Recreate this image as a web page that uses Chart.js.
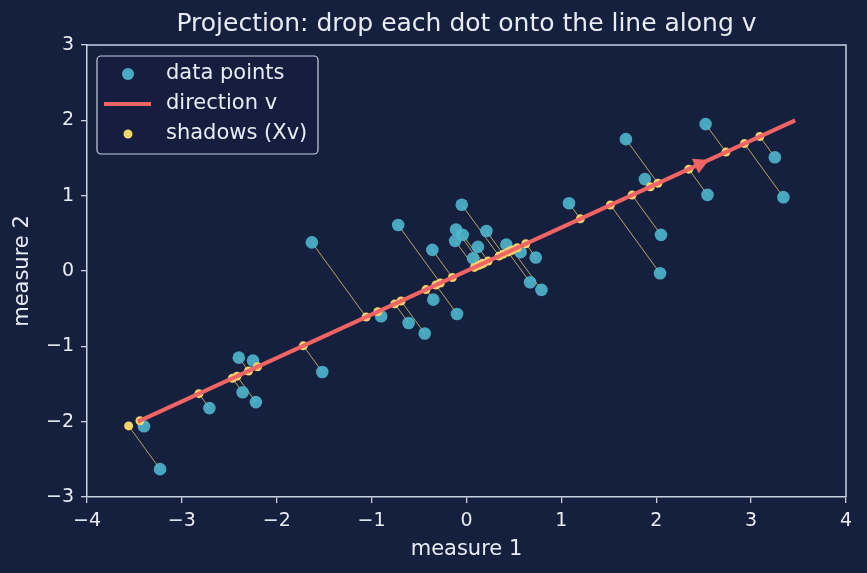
<!DOCTYPE html>
<html>
<head>
<meta charset="utf-8">
<script src="https://cdn.jsdelivr.net/npm/chart.js@4"></script>
<style>
  html, body { margin: 0; padding: 0; background: #151f3e; }
  #wrap { width: 867px; height: 573px; }
</style>
</head>
<body>
<div id="wrap"><canvas id="chart"></canvas></div>
<script>
// data points
const pointsX = [-3.40, -3.23, -2.71, -2.40, -2.36, -2.25, -2.22, -1.63, -1.52, -0.90,
                 -0.72, -0.61, -0.44, -0.36, -0.35, -0.12, -0.11, -0.10, -0.05, -0.04,
                  0.07,  0.12,  0.21,  0.42,  0.57,  0.67,  0.73,  0.79,  1.08,  1.68,
                  1.88,  2.04,  2.05,  2.52,  2.54,  3.25,  3.34];
const pointsY = [-2.06, -2.63, -1.82, -1.15, -1.61, -1.19, -1.74,  0.38, -1.34, -0.60,
                  0.61, -0.69, -0.83,  0.28, -0.38,  0.40,  0.55, -0.57,  0.88,  0.48,
                  0.17,  0.32,  0.53,  0.35,  0.25, -0.15,  0.18, -0.25,  0.90,  1.75,
                  1.22, -0.03,  0.48,  1.95,  1.01,  1.51,  0.98];

// direction v (unit vector, 30 degrees)
const vX = 0.866;
const vY = 0.5;
const lineT = [-4, 4];      // extent of the drawn line along v
const arrowT = 2.95;        // where the arrow head tip sits

const xTicks = [-4, -3, -2, -1, 0, 1, 2, 3, 4];
const yTicks = [-3, -2, -1, 0, 1, 2, 3];

const TEXT = '#e8ecf4';
const AXIS = '#c9d1e2';
const FONT = "'DejaVu Sans', sans-serif";

// shadows = (p . v) v
const shadows = pointsX.map((x, i) => {
    const t = x * vX + pointsY[i] * vY;
    return { x: t * vX, y: t * vY };
});
const points = pointsX.map((x, i) => ({ x: x, y: pointsY[i] }));
const segs = [];
points.forEach((p, i) => {
    segs.push(p, shadows[i], { x: NaN, y: NaN });
});
const linePts = lineT.map(t => ({ x: t * vX, y: t * vY }));

const minus = v => String(v).replace('-', '\u2212');

// top/right spines, arrow head, title, legend
const frame = {
    id: 'frame',
    afterDatasetsDraw(chart) {
        const { ctx, chartArea: a, scales: { x, y } } = chart;
        ctx.save();
        ctx.strokeStyle = AXIS;
        ctx.lineWidth = 1.5;
        ctx.beginPath();
        ctx.moveTo(a.left, a.top); ctx.lineTo(a.right, a.top); ctx.lineTo(a.right, a.bottom);
        ctx.stroke();

        // arrow head
        const tx = x.getPixelForValue(arrowT * vX), ty = y.getPixelForValue(arrowT * vY);
        const ox = x.getPixelForValue(0), oy = y.getPixelForValue(0);
        let dx = tx - ox, dy = ty - oy;
        const len = Math.hypot(dx, dy);
        dx /= len; dy /= len;
        const L = 15, W = 8;
        ctx.fillStyle = '#f06464';
        ctx.beginPath();
        ctx.moveTo(tx, ty);
        ctx.lineTo(tx - dx * L - dy * W, ty - dy * L + dx * W);
        ctx.lineTo(tx - dx * L + dy * W, ty - dy * L - dx * W);
        ctx.closePath();
        ctx.fill();
        ctx.restore();
    },
    afterDraw(chart) {
        const { ctx, chartArea: a } = chart;
        ctx.save();
        // title
        ctx.fillStyle = TEXT;
        ctx.font = '25px ' + FONT;
        ctx.textAlign = 'center';
        ctx.textBaseline = 'middle';
        ctx.fillText('Projection: drop each dot onto the line along v', (a.left + a.right) / 2, 24);

        // legend
        const bx = 97, by = 56, bw = 221, bh = 98, r = 4;
        ctx.beginPath();
        ctx.roundRect(bx, by, bw, bh, r);
        ctx.fillStyle = 'rgba(21,31,62,0.85)';
        ctx.fill();
        ctx.strokeStyle = AXIS;
        ctx.lineWidth = 1.2;
        ctx.stroke();

        ctx.font = '21px ' + FONT;
        ctx.textAlign = 'left';
        const rows = [74, 104, 134];
        ctx.fillStyle = 'rgba(80,186,210,0.9)';
        ctx.beginPath(); ctx.arc(128, rows[0], 6, 0, Math.PI * 2); ctx.fill();
        ctx.strokeStyle = '#f06464';
        ctx.lineWidth = 4;
        ctx.beginPath(); ctx.moveTo(104, rows[1]); ctx.lineTo(151, rows[1]); ctx.stroke();
        ctx.fillStyle = '#f6d36c';
        ctx.beginPath(); ctx.arc(128, rows[2], 4.5, 0, Math.PI * 2); ctx.fill();
        ctx.fillStyle = TEXT;
        ['data points', 'direction v', 'shadows (Xv)'].forEach((s, i) => ctx.fillText(s, 166, rows[i]));
        ctx.restore();
    }
};

new Chart(document.getElementById('chart'), {
    type: 'scatter',
    data: {
        datasets: [
            {   // drawn on top
                type: 'line', data: linePts, borderColor: '#f06464', borderWidth: 4,
                pointRadius: 0, fill: false, borderCapStyle: 'butt'
            },
            {
                data: shadows, backgroundColor: '#f6d36c', borderWidth: 0, pointRadius: 4.5
            },
            {
                data: points, backgroundColor: 'rgba(80,186,210,0.88)', borderWidth: 0, pointRadius: 6.3
            },
            {
                type: 'line', data: segs, borderColor: 'rgba(240,210,110,0.75)', borderWidth: 1,
                pointRadius: 0, fill: false, spanGaps: false
            }
        ]
    },
    options: {
        responsive: true,
        maintainAspectRatio: false,
        animation: false,
        layout: { padding: { top: 45, right: 21, left: 0, bottom: 0 } },
        plugins: { legend: { display: false }, tooltip: { enabled: false } },
        scales: {
            x: {
                type: 'linear', min: -4, max: 4,
                afterBuildTicks: s => { s.ticks = xTicks.map(v => ({ value: v })); },
                afterFit: s => { s.height = 76; },
                ticks: { color: TEXT, font: { family: FONT, size: 19 }, padding: 7, callback: minus },
                grid: { drawOnChartArea: false, drawTicks: true, tickLength: 6, color: AXIS, lineWidth: 1.3 },
                border: { display: true, color: AXIS, width: 1.5 },
                title: { display: true, text: 'measure 1', color: TEXT, font: { family: FONT, size: 21 }, padding: 11 }
            },
            y: {
                type: 'linear', min: -3, max: 3,
                afterBuildTicks: s => { s.ticks = yTicks.map(v => ({ value: v })); },
                afterFit: s => { s.width = 87; },
                ticks: { color: TEXT, font: { family: FONT, size: 19 }, padding: 7, callback: minus },
                grid: { drawOnChartArea: false, drawTicks: true, tickLength: 6, color: AXIS, lineWidth: 1.3 },
                border: { display: true, color: AXIS, width: 1.5 },
                title: { display: true, text: 'measure 2', color: TEXT, font: { family: FONT, size: 21 }, padding: 10 }
            }
        }
    },
    plugins: [frame]
});
</script>
</body>
</html>
